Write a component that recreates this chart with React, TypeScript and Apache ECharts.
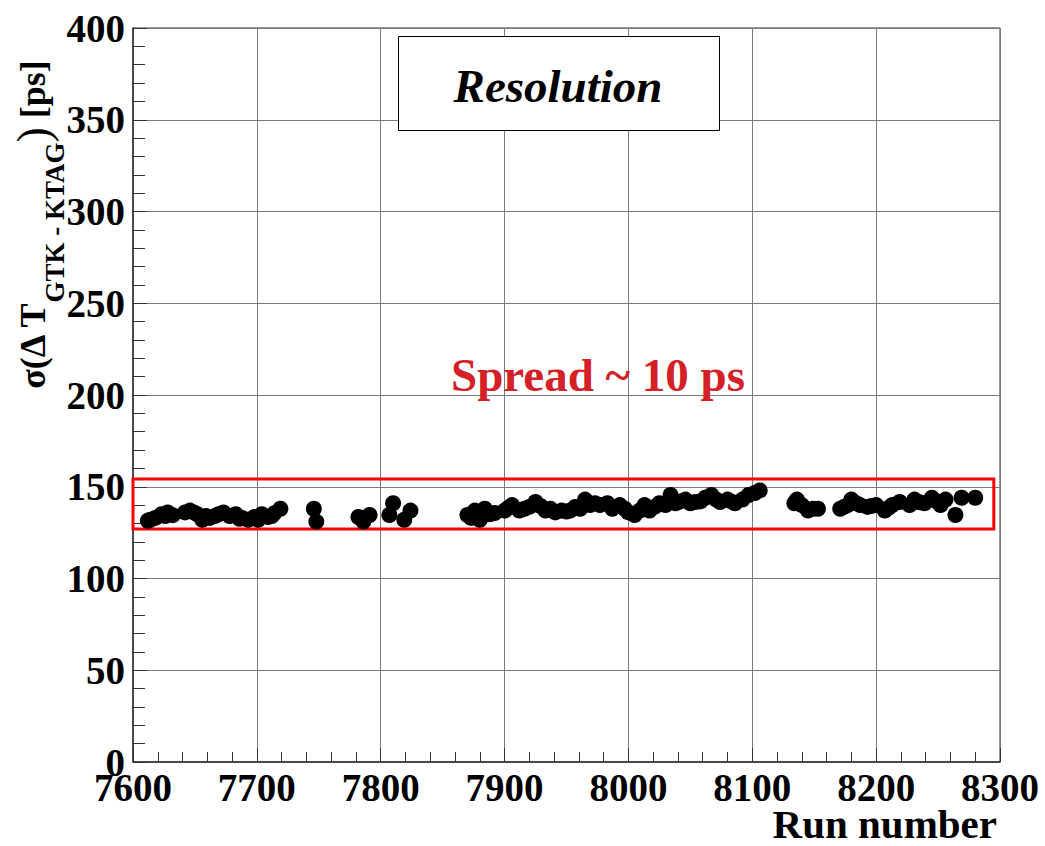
import React, { useEffect, useRef } from "react";
import * as echarts from "echarts";

// Run numbers and the fitted time resolution sigma(ΔT GTK-KTAG) in ps
const runNumbers = [
  7612, 7614, 7618, 7623, 7626, 7628, 7632, 7642, 7646, 7649, 7652, 7656, 7659, 7662, 7666, 7669, 7673, 7678, 7683, 7686, 7688, 7693, 7698, 7701, 7704, 7709, 7712, 7714, 7719,
  7746, 7748, 7782, 7786, 7791, 7807, 7810, 7819, 7824,
  7870, 7873, 7876, 7880, 7884, 7888, 7892, 7900, 7903, 7906, 7912, 7916, 7920, 7925, 7929, 7933, 7937, 7941, 7946, 7950, 7953, 7957, 7961, 7965, 7969, 7973, 7977, 7983, 7987, 7993,
  7997, 8000, 8005, 8009, 8013, 8017, 8021, 8025, 8030, 8034, 8038, 8042, 8046, 8050, 8054, 8058, 8062, 8067, 8071, 8074, 8080, 8083, 8086, 8092, 8097, 8102, 8106,
  8134, 8136, 8140, 8145, 8149, 8153, 8171, 8174, 8177, 8180, 8184, 8187, 8193, 8196, 8200, 8207, 8210, 8213, 8219, 8227, 8231, 8235, 8239, 8245, 8249, 8252, 8256, 8264, 8269, 8280,
];
const sigmaPs = [
  131.5, 132, 133, 135, 134, 136, 134.5, 136, 137, 136, 135, 132, 134, 133, 134, 135, 136, 134, 135, 132.5, 133, 132, 133.5, 132, 135, 133.5, 134, 135.5, 138,
  138, 131, 133.5, 131, 134.6, 134.6, 141, 132, 137,
  134.6, 133, 137, 132, 138, 135, 135.7, 137, 138.5, 140, 137, 138, 139, 141.7, 139.5, 137, 138, 136, 137, 136.5, 137, 139, 138, 143, 140, 141, 140, 141, 138, 140,
  138, 136, 134.6, 137, 140, 137, 139, 141, 140, 145.5, 141, 142, 143, 141, 141.7, 142, 144, 145.5, 143, 141.7, 143, 142, 141, 143, 145.5, 146.6, 148,
  141, 143, 140, 137, 138, 138, 138, 139, 140, 143, 141, 140, 139, 139.5, 140, 137, 138.5, 140, 141.7, 140, 143, 141.5, 141, 144, 142, 140, 143, 134.6, 144, 144,
];

// Band that outlines the spread of the measurements
const bandRuns = [7600, 8295];
const bandSigma = [127, 154.2];

const xTicks = { min: 7600, max: 8300, interval: 100 };
const yTicks = { min: 0, max: 400, interval: 50 };

const FONT = "Liberation Serif";

export default function App() {
  const ref = useRef<HTMLDivElement>(null);

  useEffect(() => {
    if (!ref.current) return;
    const chart = echarts.init(ref.current, null, { renderer: "svg" });
    const points = runNumbers.map((r, i) => [r, sigmaPs[i]]);

    const axisLabel = {
      color: "#000",
      fontFamily: FONT,
      fontWeight: "bold" as const,
      fontSize: 39,
      formatter: (v: number) => String(v),
    };

    chart.setOption({
      animation: false,
      backgroundColor: "#fff",
      grid: {
        left: 133,
        right: 45,
        top: 28,
        bottom: 84,
        show: true,
        borderColor: "#333",
        borderWidth: 1,
        backgroundColor: "transparent",
      },
      xAxis: {
        type: "value",
        ...xTicks,
        axisLine: { show: true, lineStyle: { color: "#333", width: 1.5 } },
        axisTick: { show: true, inside: true, length: 14, lineStyle: { color: "#333" } },
        minorTick: { show: true, splitNumber: 5, length: 10, lineStyle: { color: "#333" } },
        splitLine: { show: true, lineStyle: { color: "#7a7a7a", width: 1 } },
        axisLabel: { ...axisLabel, margin: 6 },
      },
      yAxis: {
        type: "value",
        ...yTicks,
        axisLine: { show: true, lineStyle: { color: "#333", width: 1.5 } },
        axisTick: { show: true, inside: true, length: 14, lineStyle: { color: "#333" } },
        minorTick: { show: true, splitNumber: 5, length: 12, lineStyle: { color: "#333" } },
        splitLine: { show: true, lineStyle: { color: "#7a7a7a", width: 1 } },
        axisLabel: { ...axisLabel, margin: 8 },
      },
      series: [
        {
          type: "scatter",
          data: points,
          symbol: "circle",
          symbolSize: 16,
          clip: false,
          itemStyle: { color: "#000", opacity: 1 },
          markArea: {
            silent: true,
            itemStyle: { color: "transparent", borderColor: "#ff0000", borderWidth: 3 },
            data: [
              [
                { coord: [bandRuns[0], bandSigma[0]] },
                { coord: [bandRuns[1], bandSigma[1]] },
              ],
            ],
          },
        },
      ],
      graphic: [
        {
          type: "rect",
          z: 100,
          shape: { x: 398.5, y: 36.5, width: 321, height: 94 },
          style: { fill: "#fff", stroke: "#000", lineWidth: 1 },
        },
        {
          type: "text",
          z: 101,
          x: 558,
          y: 86,
          style: {
            text: "Resolution",
            fontFamily: FONT,
            fontWeight: "bold",
            fontStyle: "italic",
            fontSize: 47,
            fill: "#000",
            align: "center",
            verticalAlign: "middle",
          },
        },
        {
          type: "text",
          z: 101,
          x: 598,
          y: 375,
          style: {
            text: "Spread ~ 10 ps",
            fontFamily: FONT,
            fontWeight: "bold",
            fontSize: 47,
            fill: "#d42027",
            align: "center",
            verticalAlign: "middle",
          },
        },
        {
          type: "text",
          z: 101,
          x: 997,
          y: 844,
          style: {
            text: "Run number",
            fontFamily: FONT,
            fontWeight: "bold",
            fontSize: 41,
            lineHeight: 40,
            fill: "#000",
            align: "right",
            verticalAlign: "bottom",
          },
        },
        {
          type: "text",
          z: 101,
          x: 33,
          y: 225,
          rotation: Math.PI / 2,
          style: {
            text: "{m|σ(Δ T}{s|GTK - KTAG}{p|)}{m| [ps]}",
            align: "center",
            verticalAlign: "middle",
            fill: "#000",
            rich: {
              m: { fontFamily: FONT, fontWeight: "bold", fontSize: 36, fill: "#000", verticalAlign: "middle" },
              s: {
                fontFamily: FONT,
                fontWeight: "bold",
                fontSize: 27,
                fill: "#000",
                padding: [44, 0, 0, 0],
                verticalAlign: "middle",
              },
              p: { fontFamily: FONT, fontSize: 46, fill: "#000", verticalAlign: "middle" },
            },
          },
        },
      ],
    });

    return () => chart.dispose();
  }, []);

  return (
    <div
      ref={ref}
      style={{ position: "fixed", left: 0, top: 0, width: 1045, height: 846, background: "#fff" }}
    />
  );
}
